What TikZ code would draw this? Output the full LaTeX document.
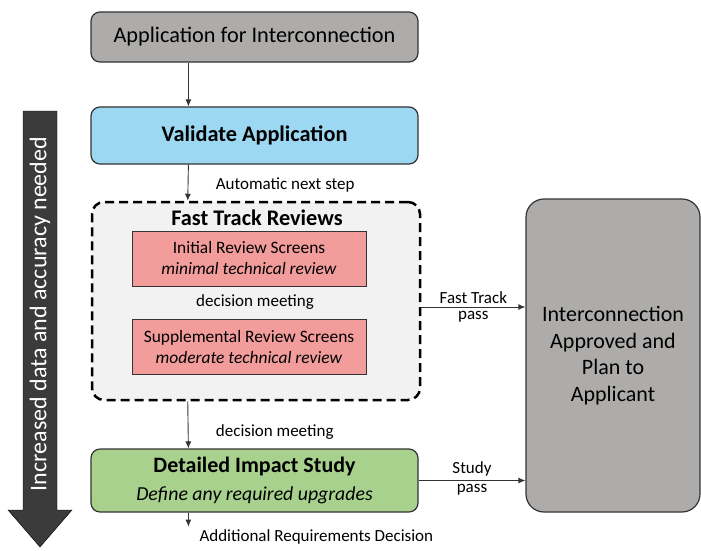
\documentclass[tikz,border=0pt]{standalone}
\usepackage{fontspec}
\setmainfont{Carlito}
\usepackage{xcolor}
\usetikzlibrary{arrows.meta}
\definecolor{stepgray}{HTML}{ADACAA}
\definecolor{validblue}{HTML}{9CD8F1}
\definecolor{screenred}{HTML}{F29C9C}
\definecolor{studygreen}{HTML}{A9D18E}
\definecolor{fastfill}{HTML}{F2F2F2}
\definecolor{bigarrow}{HTML}{3B3B3B}
\newcommand{\fsz}[1]{\fontsize{#1}{1.25\dimexpr#1pt\relax}\selectfont}

\begin{document}
\begin{tikzpicture}[x=1pt,y=-1pt,
  stage/.style={draw=black!80,line width=1.2pt,rounded corners=9pt,align=center,
    inner sep=0pt,minimum width=327pt},
  screen/.style={draw=black!80,line width=1pt,fill=screenred,align=center,
    inner sep=0pt,minimum width=234pt,minimum height=55pt,
    font=\fontsize{17.4}{21}\selectfont},
  lbl/.style={font=\fsz{17}},
  arr/.style={-{Latex[length=7pt,width=6pt]},draw=black!80,line width=0.9pt}]
  \useasboundingbox (0,0) rectangle (701,550);

  \fill[bigarrow,draw=black] (23,111) -- (57,111) -- (57,510) -- (72,510) -- (40,547)
    -- (8,510) -- (23,510) -- cycle;
  \node (need) [rotate=90,text=white,font=\fsz{24}] at (40,314)
    {Increased data and accuracy needed};

  \node (app) [stage,fill=stepgray,minimum height=50pt,font=\fsz{22.3}] at (254.5,37)
    {Application for Interconnection};
  \node (valid) [stage,fill=validblue,minimum height=57pt,font=\bfseries\fsz{22.3}]
    at (254.5,135.5) {Validate Application};
  \node (fast) [draw=black,fill=fastfill,line width=2.5pt,dash pattern=on 9pt off 5pt,
    rounded corners=12pt,minimum width=328pt,minimum height=198pt] at (256,301) {};
  \node (fasttitle) [font=\bfseries\fsz{22.3}] at (257,218) {Fast Track Reviews};
  \node (init) [screen] at (249,258.5)
    {Initial Review Screens\\ \textit{minimal technical review}};
  \node (dm) [lbl] at (255,302) {decision meeting};
  \node (supp) [screen] at (249,347)
    {Supplemental Review Screens\\ \textit{moderate technical review}};
  \node (study) [stage,fill=studygreen,minimum height=63pt,font=\fsz{22}] at (254.5,480.5)
    {\textbf{Detailed Impact Study}\\[0pt] \fontsize{19.8}{22}\selectfont\textit{Define any required upgrades}};
  \node (approve) [draw=black!80,line width=1.2pt,fill=stepgray,rounded corners=18pt,
    minimum width=174pt,minimum height=313pt,align=center,font=\fontsize{22}{26.5}\selectfont]
    at (613,355.5) {Interconnection\\ Approved and\\ Plan to\\ Applicant};
  \node (addreq) [lbl,anchor=west] at (196,537) {Additional Requirements Decision};

  \path
    ([xshift=98pt]app.south west) edge[arr] ([xshift=98pt]valid.north west)
    ([xshift=98pt]valid.south west) edge[arr] node [lbl,right=24pt,yshift=-2pt] {Automatic next step}
      ([xshift=97pt]fast.north west)
    ([xshift=97pt]fast.south west) edge[arr] node [lbl,pos=0.65,right=24pt] {decision meeting}
      ([xshift=98pt]study.north west);
  \draw[arr] ([yshift=-6pt]fast.east) coordinate (ftpass) -- (ftpass -| approve.west)
    node [lbl,midway,above] {Fast Track} node [lbl,midway,below] {pass};
  \draw[arr] (study.east) -- (study.east -| approve.west)
    node [lbl,midway,above] {Study} node [lbl,midway,below] {pass};
  \draw[arr] ([xshift=98pt]study.south west) -- ++(0,14) coordinate (addend);
\end{tikzpicture}
\end{document}
